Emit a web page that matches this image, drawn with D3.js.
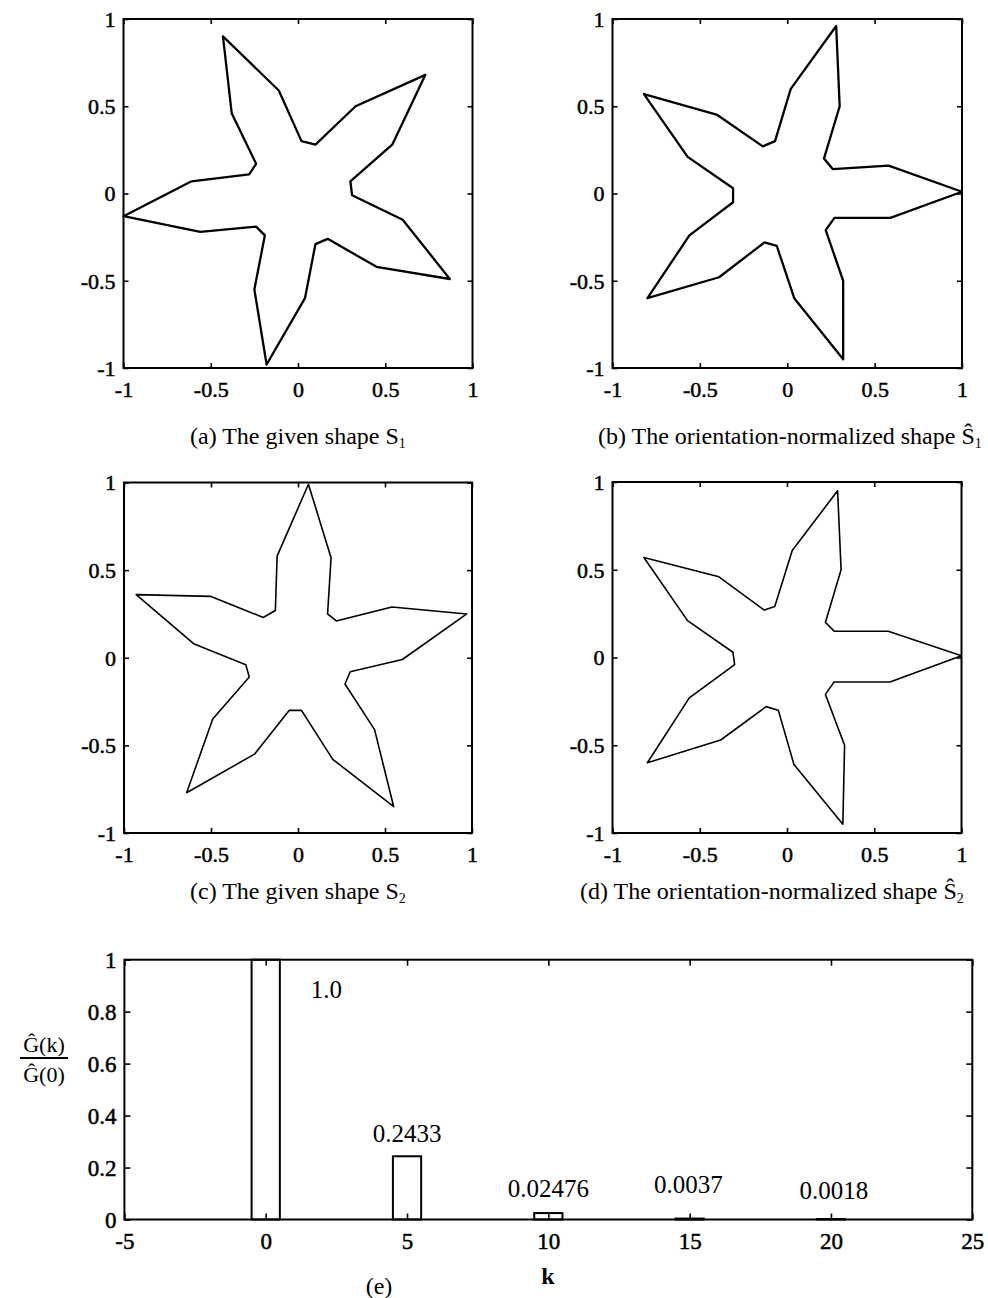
<!DOCTYPE html>
<html><head><meta charset="utf-8">
<script src="https://cdn.jsdelivr.net/npm/d3@7"></script>
<style>
body{margin:0;background:#fff}
svg{display:block}
text{font-family:"Liberation Serif","Times New Roman",serif;fill:#000}
</style>
</head><body>
<svg id="chart" width="988" height="1298"></svg>
<script>
// ---- data ----
const axisTicks = [-1, -0.5, 0, 0.5, 1];
const shapeS1 = [[-1.0,-0.13],[-0.61,0.07],[-0.28,0.11],[-0.24,0.17],[-0.38,0.46],[-0.43,0.90],[-0.11,0.59],[0.02,0.30],[0.10,0.28],[0.33,0.50],[0.73,0.68],[0.54,0.28],[0.30,0.07],[0.31,-0.01],[0.60,-0.15],[0.87,-0.49],[0.45,-0.42],[0.17,-0.26],[0.10,-0.29],[0.04,-0.60],[-0.18,-0.98],[-0.25,-0.55],[-0.19,-0.24],[-0.24,-0.19],[-0.56,-0.22]];
const shapeS1hat = [[1.0,0.01],[0.58,0.16],[0.26,0.14],[0.21,0.20],[0.30,0.50],[0.28,0.96],[0.02,0.60],[-0.07,0.30],[-0.14,0.27],[-0.40,0.45],[-0.82,0.57],[-0.57,0.21],[-0.31,0.03],[-0.31,-0.05],[-0.56,-0.24],[-0.80,-0.60],[-0.39,-0.48],[-0.13,-0.28],[-0.06,-0.30],[0.04,-0.60],[0.32,-0.95],[0.32,-0.50],[0.22,-0.21],[0.27,-0.14],[0.59,-0.14]];
const shapeS2 = [[0.06,0.99],[0.19,0.57],[0.17,0.25],[0.22,0.21],[0.54,0.29],[0.97,0.25],[0.60,-0.01],[0.30,-0.08],[0.27,-0.15],[0.44,-0.41],[0.55,-0.85],[0.20,-0.58],[0.02,-0.30],[-0.05,-0.30],[-0.25,-0.55],[-0.64,-0.77],[-0.49,-0.35],[-0.28,-0.11],[-0.30,-0.04],[-0.60,0.08],[-0.93,0.36],[-0.50,0.35],[-0.20,0.23],[-0.13,0.27],[-0.12,0.58]];
const shapeS2hat = [[1.0,0.01],[0.58,0.15],[0.27,0.15],[0.22,0.20],[0.31,0.50],[0.29,0.95],[0.03,0.61],[-0.07,0.29],[-0.13,0.27],[-0.39,0.46],[-0.82,0.57],[-0.57,0.21],[-0.31,0.03],[-0.30,-0.04],[-0.56,-0.23],[-0.80,-0.60],[-0.38,-0.47],[-0.12,-0.28],[-0.05,-0.30],[0.04,-0.61],[0.32,-0.95],[0.33,-0.50],[0.22,-0.21],[0.27,-0.14],[0.59,-0.14]];

const barK = [0, 5, 10, 15, 20];
const barValues = [1.0, 0.2433, 0.02476, 0.0037, 0.0018];
const barLabels = ["1.0", "0.2433", "0.02476", "0.0037", "0.0018"];
const kTicks = [-5, 0, 5, 10, 15, 20, 25];
const ratioTicks = [0, 0.2, 0.4, 0.6, 0.8, 1];

const svg = d3.select("#chart");
const fmt = t => String(t);

function box(g, x, y) {
  const [x0, x1] = x.range(), [y1, y0] = y.range();
  g.append("rect").attr("x", x0).attr("y", y0).attr("width", x1 - x0).attr("height", y1 - y0)
    .attr("fill", "none").attr("stroke", "#000").attr("stroke-width", 2);
}

function axes(g, x, y, xt, yt, fs, tl) {
  const [x0, x1] = x.range(), [y1, y0] = y.range();
  const style = (sel) => {
    sel.select(".domain").remove();
    sel.selectAll("line").attr("stroke", "#000").attr("stroke-width", 1.6);
  };
  const b = g.append("g").attr("transform", `translate(0,${y1})`)
    .call(d3.axisBottom(x).tickValues(xt).tickSize(-tl).tickFormat(fmt)).call(style);
  b.selectAll("text").attr("y", 29).attr("dy", null).attr("font-size", fs)
    .attr("font-family", "Liberation Serif").attr("stroke", "#000").attr("stroke-width", 0.5);
  g.append("g").attr("transform", `translate(0,${y0})`)
    .call(d3.axisTop(x).tickValues(xt).tickSize(-tl).tickFormat("")).call(style);
  const l = g.append("g").attr("transform", `translate(${x0},0)`)
    .call(d3.axisLeft(y).tickValues(yt).tickSize(-tl).tickFormat(fmt)).call(style);
  l.selectAll("text").attr("x", -8).attr("dy", "0.34em").attr("font-size", fs)
    .attr("font-family", "Liberation Serif").attr("stroke", "#000").attr("stroke-width", 0.5);
  g.append("g").attr("transform", `translate(${x1},0)`)
    .call(d3.axisRight(y).tickValues(yt).tickSize(-tl).tickFormat("")).call(style);
}

function shapePanel(spec, pts, sw) {
  const g = svg.append("g");
  const x = d3.scaleLinear().domain([-1, 1]).range([spec.x0, spec.x1]);
  const y = d3.scaleLinear().domain([-1, 1]).range([spec.y1, spec.y0]);
  axes(g, x, y, axisTicks, axisTicks, 22, 5);
  g.append("path").datum(pts)
    .attr("d", d3.line().x(d => x(d[0])).y(d => y(d[1])).curve(d3.curveLinearClosed))
    .attr("fill", "none").attr("stroke", "#000").attr("stroke-width", sw).attr("stroke-linejoin", "round");
  box(g, x, y);
}

shapePanel({x0: 123.5, x1: 472.5, y0: 19, y1: 368}, shapeS1, 2.3);
shapePanel({x0: 612.5, x1: 962, y0: 19, y1: 368}, shapeS1hat, 2.3);
shapePanel({x0: 124, x1: 472, y0: 482.5, y1: 833}, shapeS2, 1.6);
shapePanel({x0: 612.5, x1: 961.5, y0: 482, y1: 833}, shapeS2hat, 1.6);

// captions
function caption(xp, yp, pre, sym, sub) {
  const t = svg.append("text").attr("x", xp).attr("y", yp).attr("font-size", 24);
  t.append("tspan").text(pre);
  t.append("tspan").text(sym);
  t.append("tspan").attr("font-size", 14).attr("dy", 4).text(sub);
}
caption(190, 444, "(a) The given shape ", "S", "1");
caption(598, 444, "(b) The orientation-normalized shape ", "Ŝ", "1");
caption(190, 899, "(c) The given shape ", "S", "2");
caption(580, 899, "(d)  The orientation-normalized shape ", "Ŝ", "2");

// bar chart
const bx = d3.scaleLinear().domain([-5, 25]).range([124.4, 972.3]);
const by = d3.scaleLinear().domain([0, 1]).range([1219.5, 959.7]);
const gb = svg.append("g");
axes(gb, bx, by, kTicks, ratioTicks, 23, 6);
gb.selectAll("rect.bar").data(barK).enter().append("rect").attr("class", "bar")
  .attr("x", d => bx(d - 0.5)).attr("width", d => bx(d + 0.5) - bx(d - 0.5))
  .attr("y", (d, i) => by(barValues[i])).attr("height", (d, i) => by(0) - by(barValues[i]))
  .attr("fill", "none").attr("stroke", "#000").attr("stroke-width", 2);
box(gb, bx, by);

// value annotations (k position, ratio baseline)
const annot = [[2.15, 0.853], [5, 0.298], [10, 0.087], [14.95, 0.103], [20.1, 0.080]];
gb.selectAll("text.val").data(barLabels).enter().append("text").attr("class", "val")
  .attr("x", (d, i) => bx(annot[i][0])).attr("y", (d, i) => by(annot[i][1]))
  .attr("text-anchor", "middle").attr("font-size", 25).text(d => d);

// axis titles
gb.append("text").attr("x", 548).attr("y", 1284).attr("text-anchor", "middle")
  .attr("font-size", 24).attr("font-weight", "bold").text("k");
gb.append("text").attr("x", 379).attr("y", 1294).attr("text-anchor", "middle")
  .attr("font-size", 24).text("(e)");
gb.append("text").attr("x", 44).attr("y", 1052).attr("text-anchor", "middle")
  .attr("font-size", 22).text("Ĝ(k)");
gb.append("line").attr("x1", 20).attr("x2", 68).attr("y1", 1058).attr("y2", 1058)
  .attr("stroke", "#000").attr("stroke-width", 1.8);
gb.append("text").attr("x", 44).attr("y", 1082).attr("text-anchor", "middle")
  .attr("font-size", 22).text("Ĝ(0)");
</script>
</body></html>
